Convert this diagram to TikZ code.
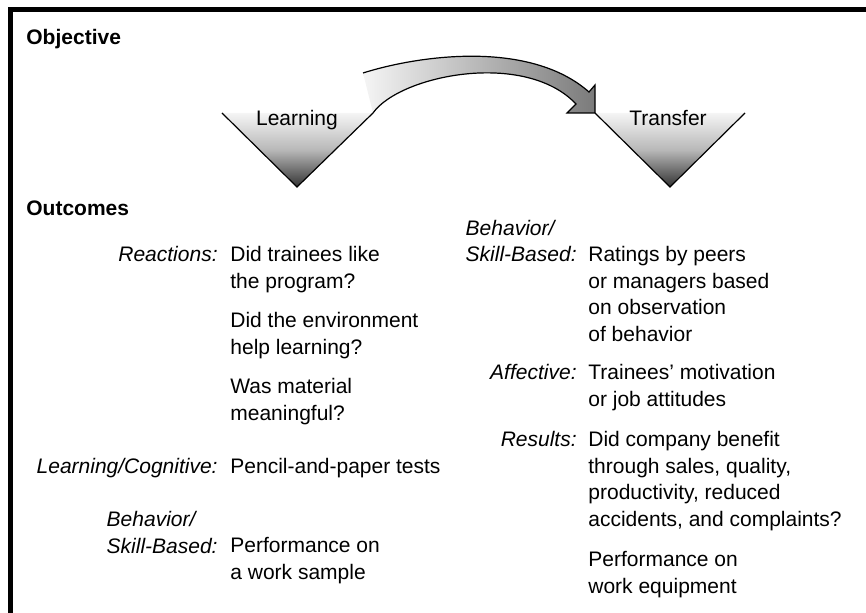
\documentclass[tikz,border=0pt]{standalone}
\usepackage{fontspec}
\setmainfont{Liberation Sans}
\usetikzlibrary{calc}
\usetikzlibrary{positioning}

\begin{document}
\begin{tikzpicture}[x=0.5pt, y=-0.5pt,
    heading/.style={anchor=base west, inner sep=0, font=\fontsize{10.5}{13.2}\selectfont\bfseries},
    kind/.style={anchor=base east, inner sep=0, align=left, font=\fontsize{10.5}{13.2}\selectfont\itshape},
    answer/.style={anchor=base west, inner sep=0, align=left, font=\fontsize{10.5}{13.2}\selectfont},
    stage/.style={anchor=base, inner sep=0, font=\fontsize{10.5}{13.2}\selectfont},
    funnel/.style={draw=black, line width=0.6pt, top color=black!4, bottom color=black!80, middle color=black!28}]
    \useasboundingbox (0,0) rectangle (866,613);
    \clip (0,0) rectangle (866,613);

    % frame
    \draw [line width=2.5pt] (880,10) -- (10.5,10) -- (10.5,630);

    \node [heading] (objective) at (26,45) {Objective};
    \node [heading] (outcomes) at (26,216) {Outcomes};

    % funnels
    \coordinate (learnL) at (222,113);
    \coordinate (learnR) at (373,113);
    \coordinate (learnB) at (297,187);
    \coordinate (transL) at (595,113);
    \coordinate (transR) at (745,113);
    \coordinate (transB) at (670,187);
    \shadedraw [funnel] (learnL) -- (learnB) -- (learnR);
    \shadedraw [funnel] (transL) -- (transB) -- (transR);
    \node [stage] (learning) at (297,126) {Learning};
    \node [stage] (transfer) at (668,126) {Transfer};

    % curved arrow
    \shadedraw [draw=black, line width=0.6pt, left color=black!4, right color=black!52]
        ($(learnR)+(-10,-40)$) .. controls (420,55) and (530,40) .. ($(transL)+(-6,-21)$)
        -- ($(transL)+(0,-28)$) -- (transL) -- ($(transL)+(-28,0)$) -- ($(transL)+(-19,-9)$)
        .. controls (525,50) and (400,75) .. (learnR);

    % left column (multi-line nodes sit on their last line)
    \node [kind] (reactions) at (218,262) {Reactions:};
    \node [answer] (liked) at (230,288.4) {Did trainees like\\the program?};
    \node [answer] (environment) at (230,354.4) {Did the environment\\help learning?};
    \node [answer] (meaningful) at (230,420.4) {Was material\\meaningful?};
    \node [kind] (cognitive) at (218,474) {Learning/Cognitive:};
    \node [answer, base right=6pt of cognitive] (tests) {Pencil-and-paper tests};
    \node [kind] (skillL) at (218,553) {Behavior/\\Skill-Based:};
    \node [answer] (sample) at (230,579.4) {Performance on\\a work sample};

    % right column
    \node [kind] (skillR) at (577,262) {Behavior/\\Skill-Based:};
    \node [answer] (ratings) at (588,341.2) {Ratings by peers\\or managers based\\on observation\\of behavior};
    \node [kind] (affective) at (577,380) {Affective:};
    \node [answer] (motivation) at (588,406.4) {Trainees’ motivation\\or job attitudes};
    \node [kind] (results) at (577,447) {Results:};
    \node [answer] (benefit) at (588,526.2) {Did company benefit\\through sales, quality,\\productivity, reduced\\accidents, and complaints?};
    \node [answer] (equipment) at (588,593.4) {Performance on\\work equipment};
\end{tikzpicture}
\end{document}
